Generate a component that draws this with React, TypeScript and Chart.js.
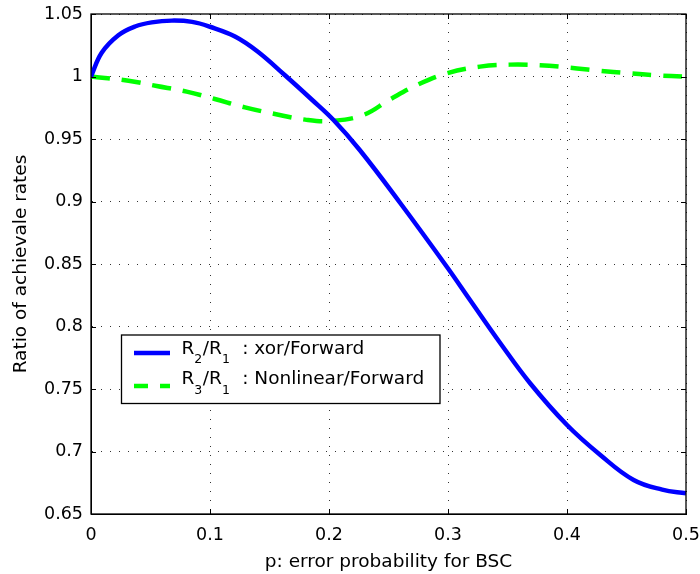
import React, { useEffect, useRef } from "react";
import { Chart, registerables } from "chart.js";

Chart.register(...registerables);

// ---- data ----
const xorP = [0, 0.009, 0.023, 0.037, 0.051, 0.068, 0.085, 0.1, 0.121, 0.14, 0.163, 0.185, 0.204, 0.226, 0.26, 0.299, 0.3185, 0.344, 0.369, 0.4, 0.428, 0.456, 0.48, 0.5];
const xorRatio = [1.0, 1.019, 1.033, 1.04, 1.0433, 1.0447, 1.0437, 1.0398, 1.032, 1.02, 1.001, 0.982, 0.965, 0.941, 0.8986, 0.8478, 0.8212, 0.7866, 0.7546, 0.7212, 0.6972, 0.6772, 0.6695, 0.6665];

const nonlinP = [0, 0.0315, 0.0552, 0.0804, 0.104, 0.1294, 0.1546, 0.18, 0.2008, 0.2288, 0.2513, 0.275, 0.2989, 0.3269, 0.352, 0.3773, 0.4025, 0.4263, 0.4515, 0.4754, 0.5];
const nonlinRatio = [1.0, 0.9966, 0.9924, 0.9879, 0.982, 0.9753, 0.97, 0.9655, 0.9644, 0.9692, 0.9817, 0.9937, 1.0025, 1.0079, 1.0095, 1.009, 1.0071, 1.0047, 1.0026, 1.001, 0.9998];

const xTickValues = [0, 0.1, 0.2, 0.3, 0.4, 0.5];
const xTickLabels = ["0", "0.1", "0.2", "0.3", "0.4", "0.5"];
const yTickValues = [0.65, 0.7, 0.75, 0.8, 0.85, 0.9, 0.95, 1.0, 1.05];
const yTickLabels = ["0.65", "0.7", "0.75", "0.8", "0.85", "0.9", "0.95", "1", "1.05"];

const xTitle = "p: error probability for BSC";
const yTitle = "Ratio of achievale rates";

// legend entries: pieces of [text, isSubscript]
const legendXor: [string, boolean][] = [["R", false], ["2", true], ["/R", false], ["1", true], [" : xor/Forward", false]];
const legendNonlin: [string, boolean][] = [["R", false], ["3", true], ["/R", false], ["1", true], [" : Nonlinear/Forward", false]];

const FONT = "'DejaVu Sans', 'Liberation Sans', Arial, sans-serif";
const TICK_FS = 17.5;
const TITLE_FS = 18.5;
const LEG_FS = 18.5;
const BLUE = "#0000ff";
const GREEN = "#00ff00";

function labelFor(values: number[], labels: string[], v: number) {
  const r = Math.round(v * 1000) / 1000;
  const i = values.findIndex((t) => Math.abs(t - r) < 1e-6);
  return i >= 0 ? labels[i] : "";
}

const frameAndLegend = {
  id: "frameAndLegend",
  afterDraw(chart: any) {
    const { ctx, chartArea } = chart;
    const { left, right, top, bottom } = chartArea;
    const xs = chart.scales.x;
    const ys = chart.scales.y;
    ctx.save();
    // box
    ctx.strokeStyle = "#000";
    ctx.lineWidth = 1.3;
    ctx.strokeRect(left, top, right - left, bottom - top);
    // inward ticks on all sides
    ctx.lineWidth = 1;
    const tl = 5;
    ctx.beginPath();
    for (const v of xTickValues) {
      const px = Math.round(xs.getPixelForValue(v)) + 0.5;
      ctx.moveTo(px, bottom);
      ctx.lineTo(px, bottom - tl);
      ctx.moveTo(px, top);
      ctx.lineTo(px, top + tl);
    }
    for (const v of yTickValues) {
      const py = Math.round(ys.getPixelForValue(v)) + 0.5;
      ctx.moveTo(left, py);
      ctx.lineTo(left + tl, py);
      ctx.moveTo(right, py);
      ctx.lineTo(right - tl, py);
    }
    ctx.stroke();

    // legend
    const bx = 121.5, by = 335, bw = 318.5, bh = 68.5;
    ctx.fillStyle = "#fff";
    ctx.fillRect(bx, by, bw, bh);
    ctx.strokeStyle = "#000";
    ctx.lineWidth = 1.3;
    ctx.strokeRect(bx, by, bw, bh);

    const entries = [
      { parts: legendXor, color: BLUE, dash: [] as number[], baseline: 353.5, lineY: 353 },
      { parts: legendNonlin, color: GREEN, dash: [14, 12], baseline: 384, lineY: 386 },
    ];
    for (const e of entries) {
      ctx.beginPath();
      ctx.setLineDash(e.dash);
      ctx.strokeStyle = e.color;
      ctx.lineWidth = 4.5;
      ctx.lineCap = "butt";
      ctx.moveTo(134, e.lineY);
      ctx.lineTo(170, e.lineY);
      ctx.stroke();
      ctx.setLineDash([]);
      let x = 181.5;
      ctx.fillStyle = "#000";
      ctx.textBaseline = "alphabetic";
      ctx.textAlign = "left";
      e.parts.forEach(([t, sub], idx) => {
        ctx.font = sub ? `12.5px ${FONT}` : `${LEG_FS}px ${FONT}`;
        if (idx === e.parts.length - 1) x += 6;
        const y = sub ? e.baseline + 9.5 : e.baseline;
        ctx.fillText(t, x, y);
        x += ctx.measureText(t).width + (sub ? 0.5 : 0);
      });
    }
    ctx.restore();
  },
};

export default function App() {
  const ref = useRef<HTMLCanvasElement | null>(null);
  useEffect(() => {
    if (!ref.current) return;
    const chart = new Chart(ref.current, {
      type: "line",
      data: {
        datasets: [
          {
            label: "R2/R1 : xor/Forward",
            data: xorP.map((p, i) => ({ x: p, y: xorRatio[i] })),
            borderColor: BLUE,
            backgroundColor: BLUE,
            borderWidth: 4.5,
            pointRadius: 0,
            tension: 0.4,
            fill: false,
          },
          {
            label: "R3/R1 : Nonlinear/Forward",
            data: nonlinP.map((p, i) => ({ x: p, y: nonlinRatio[i] })),
            borderColor: GREEN,
            backgroundColor: GREEN,
            borderWidth: 4.5,
            borderDash: [19, 12],
            pointRadius: 0,
            tension: 0.4,
            fill: false,
          },
        ],
      },
      options: {
        animation: false,
        responsive: false,
        events: [],
        layout: { padding: { left: 0, top: 14, right: 14, bottom: 0 } },
        plugins: { legend: { display: false }, tooltip: { enabled: false } },
        scales: {
          x: {
            type: "linear",
            min: 0,
            max: 0.5,
            afterFit: (s: any) => { s.height = 60; s.paddingLeft = 0; s.paddingRight = 0; },
            afterBuildTicks: (s: any) => { s.ticks = xTickValues.map((v) => ({ value: v })); },
            ticks: {
              color: "#000",
              font: { family: FONT, size: TICK_FS },
              padding: 11,
              maxRotation: 0,
              autoSkip: false,
              callback: (v: any) => labelFor(xTickValues, xTickLabels, Number(v)),
            },
            grid: { color: "#333", lineWidth: 1, drawTicks: false },
            border: { display: true, color: "#000", width: 1, dash: [1, 8] },
            title: { display: true, text: xTitle, color: "#000", font: { family: FONT, size: TITLE_FS }, padding: { top: 0, bottom: 0.5 } },
          },
          y: {
            type: "linear",
            min: 0.65,
            max: 1.05,
            afterFit: (s: any) => { s.width = 91; s.paddingTop = 0; s.paddingBottom = 0; },
            afterBuildTicks: (s: any) => { s.ticks = yTickValues.map((v) => ({ value: v })); },
            ticks: {
              color: "#000",
              font: { family: FONT, size: TICK_FS },
              padding: 8,
              autoSkip: false,
              callback: (v: any) => labelFor(yTickValues, yTickLabels, Number(v)),
            },
            grid: { color: "#333", lineWidth: 1, drawTicks: false },
            border: { display: true, color: "#000", width: 1, dash: [1, 8] },
            title: { display: true, text: yTitle, color: "#000", font: { family: FONT, size: TITLE_FS }, padding: { top: 10, bottom: 0 } },
          },
        },
      },
      plugins: [frameAndLegend],
    } as any);
    return () => chart.destroy();
  }, []);
  return (
    <div style={{ position: "absolute", left: 0, top: 0, width: 700, height: 574, background: "#fff" }}>
      <canvas ref={ref} width={700} height={574} style={{ display: "block", width: 700, height: 574 }} />
    </div>
  );
}
